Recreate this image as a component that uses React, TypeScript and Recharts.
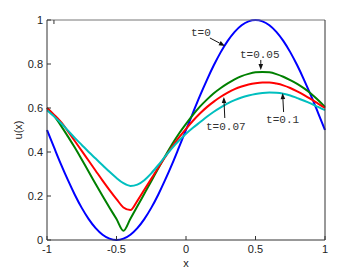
import { Label, Line, LineChart, ReferenceDot, XAxis, YAxis } from "recharts";

// sample positions along x
const xs = [
  -1, -0.95, -0.9, -0.85, -0.8, -0.75, -0.7, -0.65, -0.6, -0.55, -0.5, -0.45, -0.4, -0.35, -0.3, -0.25, -0.2, -0.15, -0.1, -0.05,
  0, 0.05, 0.1, 0.15, 0.2, 0.25, 0.3, 0.35, 0.4, 0.45, 0.5, 0.55, 0.6, 0.65, 0.7, 0.75, 0.8, 0.85, 0.9, 0.95, 1,
];

// u(x) at each time
const uT0 = [
  0.5, 0.422, 0.345, 0.273, 0.206, 0.146, 0.095, 0.054, 0.024, 0.006, 0, 0.006, 0.024, 0.054, 0.095, 0.146, 0.206, 0.273, 0.345, 0.422,
  0.5, 0.578, 0.655, 0.727, 0.794, 0.854, 0.905, 0.946, 0.976, 0.994, 1, 0.994, 0.976, 0.946, 0.905, 0.854, 0.794, 0.727, 0.655, 0.578, 0.5,
];
const uT005 = [
  0.6, 0.565, 0.52, 0.471, 0.42, 0.366, 0.31, 0.255, 0.2, 0.147, 0.095, 0.042, 0.097, 0.153, 0.21, 0.267, 0.325, 0.381, 0.435, 0.484,
  0.528, 0.569, 0.606, 0.638, 0.667, 0.691, 0.712, 0.73, 0.745, 0.755, 0.762, 0.764, 0.762, 0.754, 0.742, 0.727, 0.71, 0.689, 0.665, 0.636, 0.605,
];
const uT007 = [
  0.6, 0.57, 0.537, 0.495, 0.45, 0.405, 0.36, 0.315, 0.27, 0.227, 0.186, 0.148, 0.136, 0.178, 0.228, 0.278, 0.328, 0.377, 0.424, 0.466,
  0.505, 0.542, 0.575, 0.604, 0.629, 0.651, 0.67, 0.686, 0.698, 0.707, 0.713, 0.716, 0.716, 0.711, 0.703, 0.691, 0.676, 0.659, 0.64, 0.62, 0.6,
];
const uT01 = [
  0.59, 0.562, 0.532, 0.498, 0.464, 0.432, 0.4, 0.37, 0.34, 0.31, 0.282, 0.258, 0.246, 0.252, 0.272, 0.303, 0.34, 0.38, 0.418, 0.452,
  0.483, 0.51, 0.535, 0.56, 0.583, 0.603, 0.621, 0.636, 0.648, 0.657, 0.664, 0.668, 0.67, 0.669, 0.665, 0.657, 0.645, 0.633, 0.62, 0.605, 0.59,
];

const xTicks = [-1, -0.5, 0, 0.5, 1];
const yTicks = [0, 0.2, 0.4, 0.6, 0.8, 1];

// arrow annotations: label, and the point the arrow tip touches
const noteText = ["t=0", "t=0.05", "t=0.07", "t=0.1"];
const noteX = [0.28, 0.538, 0.272, 0.695];
const noteU = [0.882, 0.773, 0.65, 0.668];
// pixel layout of each annotation relative to the tip: arrow tail, text centre
const noteLayout = [
  { tail: [-15, -8], text: [-24, -14] },
  { tail: [0, -10], text: [-1, -16] },
  { tail: [1, 21], text: [2, 29] },
  { tail: [1, 19], text: [0, 26] },
];

const data = xs.map((x, i) => ({ x, u0: uT0[i], u005: uT005[i], u007: uT007[i], u01: uT01[i] }));

const SANS = "'Liberation Sans', Arial, sans-serif";
const MONO = "'Liberation Mono', 'DejaVu Sans Mono', monospace";
const AXIS = "#333";

const BottomTick = (p: any) => (
  <g>
    <line x1={p.x} y1={p.y} x2={p.x} y2={p.y - 4} stroke={AXIS} />
    <text x={p.x} y={p.y + 13} textAnchor="middle" fontSize={11} fill="#222" fontFamily={SANS}>
      {String(p.payload.value)}
    </text>
  </g>
);

const LeftTick = (p: any) => (
  <g>
    <line x1={p.x} y1={p.y} x2={p.x + 4} y2={p.y} stroke={AXIS} />
    <text x={p.x - 4} y={p.y + 4} textAnchor="end" fontSize={11} fill="#222" fontFamily={SANS}>
      {String(p.payload.value)}
    </text>
  </g>
);

const TopTick = (p: any) => <line x1={p.x} y1={p.y} x2={p.x} y2={p.y + 4} stroke={AXIS} />;
const RightTick = (p: any) => <line x1={p.x} y1={p.y} x2={p.x - 4} y2={p.y} stroke={AXIS} />;

function arrowShape(i: number) {
  return (p: any) => {
    const { cx, cy } = p;
    const [tx, ty] = noteLayout[i].tail;
    const [lx, ly] = noteLayout[i].text;
    const len = Math.hypot(tx, ty);
    const dx = -tx / len;
    const dy = -ty / len;
    const L = 6;
    const w = 2.3;
    const bx = cx - dx * L;
    const by = cy - dy * L;
    const pts = `${cx},${cy} ${bx - dy * w},${by + dx * w} ${bx + dy * w},${by - dx * w}`;
    return (
      <g>
        <line x1={cx + tx} y1={cy + ty} x2={bx} y2={by} stroke="#111" strokeWidth={1} />
        <polygon points={pts} fill="#111" />
        <text x={cx + lx} y={cy + ly + 4} textAnchor="middle" fontSize={11} fill="#333" fontFamily={MONO}>
          {noteText[i]}
        </text>
      </g>
    );
  };
}

export default function App() {
  return (
    <div style={{ position: "absolute", left: 0, top: 0, background: "#fff" }}>
      <LineChart width={360} height={271} data={data} margin={{ top: 0, right: 0, bottom: 0, left: 0 }}>
        <XAxis
          dataKey="x"
          type="number"
          domain={[-1, 1]}
          ticks={xTicks}
          height={31}
          tickLine={false}
          tickSize={0}
          tickMargin={0}
          tick={<BottomTick />}
          axisLine={{ stroke: AXIS }}
        >
          <Label
            content={(p: any) => (
              <text x={p.viewBox.x + p.viewBox.width / 2} y={p.viewBox.y + 27} textAnchor="middle" fontSize={11} fill="#222" fontFamily={SANS}>
                x
              </text>
            )}
          />
        </XAxis>
        <XAxis
          xAxisId="top"
          orientation="top"
          type="number"
          domain={[-1, 1]}
          ticks={xTicks}
          height={20}
          tickLine={false}
          tickSize={0}
          tickMargin={0}
          tick={<TopTick />}
          axisLine={{ stroke: "#777" }}
        />
        <YAxis
          type="number"
          domain={[0, 1]}
          ticks={yTicks}
          width={47}
          tickLine={false}
          tickSize={0}
          tickMargin={0}
          tick={<LeftTick />}
          axisLine={{ stroke: AXIS }}
        >
          <Label
            content={(p: any) => {
              const cx = 18;
              const cy = p.viewBox.y + p.viewBox.height / 2;
              return (
                <text x={cx} y={cy} transform={`rotate(-90 ${cx} ${cy})`} textAnchor="middle" dominantBaseline="central" fontSize={11} fill="#222" fontFamily={SANS}>
                  u(x)
                </text>
              );
            }}
          />
        </YAxis>
        <YAxis
          yAxisId="right"
          orientation="right"
          type="number"
          domain={[0, 1]}
          ticks={yTicks}
          width={35}
          tickLine={false}
          tickSize={0}
          tickMargin={0}
          tick={<RightTick />}
          axisLine={{ stroke: AXIS }}
        />
        <Line type="monotone" dataKey="u0" stroke="#0000ff" strokeWidth={2} dot={false} isAnimationActive={false} />
        <Line type="monotone" dataKey="u005" stroke="#008000" strokeWidth={2} dot={false} isAnimationActive={false} />
        <Line type="monotone" dataKey="u007" stroke="#ff0000" strokeWidth={2} dot={false} isAnimationActive={false} />
        <Line type="monotone" dataKey="u01" stroke="#00bfbf" strokeWidth={2} dot={false} isAnimationActive={false} />
        {noteText.map((t, i) => (
          <ReferenceDot key={t} x={noteX[i]} y={noteU[i]} r={0} shape={arrowShape(i)} ifOverflow="visible" />
        ))}
      </LineChart>
    </div>
  );
}
